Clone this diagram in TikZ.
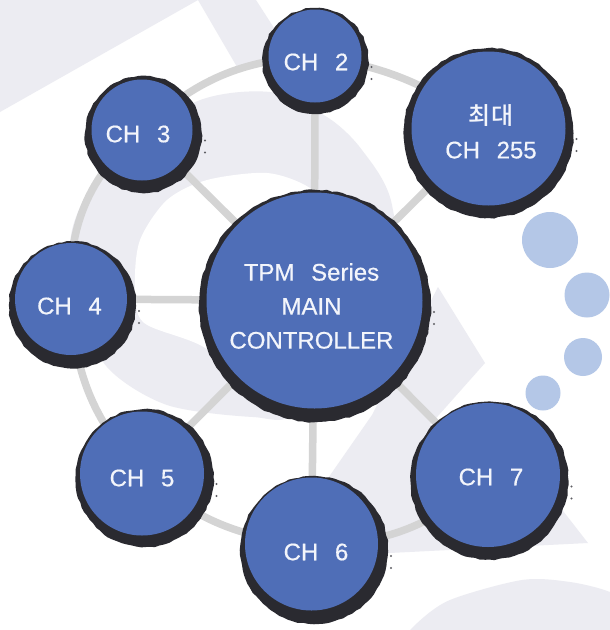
\documentclass[tikz,border=0pt]{standalone}
\usepackage{fontspec}
\setmainfont{Liberation Sans}[WordSpace=2.5,FakeBold=0.5]
\newfontfamily\krfont{Noto Sans CJK KR Medium}
\usetikzlibrary{decorations.pathmorphing}
\definecolor{discblue}{HTML}{4F6EB7}
\definecolor{inkc}{HTML}{2A2A30}
\definecolor{linkc}{HTML}{D4D4D4}
\definecolor{bgc}{HTML}{ECECF2}
\definecolor{dotc}{HTML}{B4C7E7}
\definecolor{txtc}{HTML}{F3F5FB}
\pgfdeclarelayer{bgl}
\pgfdeclarelayer{links}
\pgfdeclarelayer{inks}
\pgfsetlayers{bgl,links,inks,main}
\tikzset{
  disc/.style={circle,fill=discblue,inner sep=0pt,minimum size=#1},
  lbl/.style={text=txtc,align=center,inner sep=0pt,font=\fontsize{24}{34}\selectfont},
  link/.style={draw=linkc,line width=7.5pt},
  inkdisc/.style={fill=inkc,decorate,decoration={random steps,segment length=5pt,amplitude=.7pt}},
  speck/.style={fill=inkc!75},
  softdot/.style={circle,fill=dotc,inner sep=0pt,minimum size=#1}
}
\pgfmathsetseed{7}
\begin{document}
\begin{tikzpicture}[x=1pt,y=-1pt]
\useasboundingbox (0,0) rectangle (610,630);
% channel discs
\node[disc=216pt,label={[lbl,xshift=-3pt,yshift=-5.5pt]center:TPM Series\\MAIN\\CONTROLLER}] (main) at (314.5,300.5) {};
\node[disc=93pt,label={[lbl,xshift=1pt,yshift=-6pt]center:CH 2}] (ch2) at (315,56) {};
\node[disc=154pt,label={[lbl,xshift=2.5pt,yshift=-3pt]center:{\krfont 최대}\\CH 255}] (ch255) at (488.5,128.5) {};
\node[disc=101pt,label={[lbl,xshift=-4pt,yshift=-4pt]center:CH 3}] (ch3) at (142,130) {};
\node[disc=112pt,label={[lbl,xshift=-1.5pt,yshift=-7pt]center:CH 4}] (ch4) at (71,299) {};
\node[disc=124pt,label={[lbl,yshift=-4.5pt]center:CH 5}] (ch5) at (142,473.5) {};
\node[disc=133pt,label={[lbl,xshift=4.5pt,yshift=-8pt]center:CH 6}] (ch6) at (311.5,544) {};
\node[disc=144pt,label={[lbl,xshift=3pt,yshift=-2pt]center:CH 7}] (ch7) at (488,475) {};
% pale dots
\node[softdot=56pt] (d1) at (550,240) {};
\node[softdot=45pt] (d2) at (587,295) {};
\node[softdot=38pt] (d3) at (583,357) {};
\node[softdot=35pt] (d4) at (543,393) {};
% background shapes
\begin{pgfonlayer}{bgl}
\fill[white] (0,0) rectangle (610,630);
\begin{scope}
\clip (0,0) rectangle (610,630);
\fill[bgc] (0,0) -- (0,112) -- (198,0) -- cycle;
\fill[bgc] (198,0) -- (256,0) -- (285,45) -- (240,72) -- cycle;
\fill[bgc] plot[smooth cycle] coordinates {(270,92) (327,117) (362,150) (392,205) (395,320) (300,412) (253,417) (167,405) (107,367) (75,300) (72,230) (105,170) (193,103)};
\fill[white] plot[smooth cycle] coordinates {(267,173) (310,188) (340,220) (340,330) (280,390) (200,345) (143,322) (135,285) (140,240) (167,200) (207,180)};
\fill[bgc] (438,287) -- (485,363) -- (430,425) -- (500,430) -- (588,543) -- (330,556) -- (285,540) -- (372,415) -- cycle;
\fill[bgc] plot[smooth] coordinates {(395,650) (415,625) (450,600) (522,580) (570,582) (610,592) (640,610)} -- (640,650) -- cycle;
\end{scope}
\end{pgfonlayer}
% connectors
\begin{pgfonlayer}{links}
\foreach \c in {ch2,ch255,ch3,ch4,ch5,ch6,ch7}
  \draw[link] (main.center) -- (\c.center);
\draw[link] (ch7.center) to[bend left=22] (ch6.center);
\draw[link] (ch6.center) to[bend left=18] (ch5.center);
\draw[link] (ch5.center) to[bend left=20] (ch4.center);
\draw[link] (ch4.center) to[bend left=26] (ch3.center);
\draw[link] (ch3.center) to[bend left=20] (ch2.center);
\draw[link] (ch2.center) to[bend left=14] (ch255.center);
\end{pgfonlayer}
% brushed rims
\begin{pgfonlayer}{inks}
\foreach \c/\dx/\dy/\r in {main/0.5/5.5/116,ch2/0.5/5/53,ch255/0/4.5/85,ch3/1.5/4.5/58.5,ch4/1.5/6/63.5,ch5/2.5/4.5/69,ch6/2.5/6/74,ch7/1.5/5.5/79}{
  \fill[inkdisc] ([shift={(\dx,\dy)}]\c.center) circle[radius=\r pt];
  \fill[speck] ([shift={(\dx,\dy)}]\c.center) ++(\r+3,6) circle[radius=1.2pt];
  \fill[speck] ([shift={(\dx,\dy)}]\c.center) ++(\r+3,18) circle[radius=1.2pt];
}
\end{pgfonlayer}
\end{tikzpicture}
\end{document}
